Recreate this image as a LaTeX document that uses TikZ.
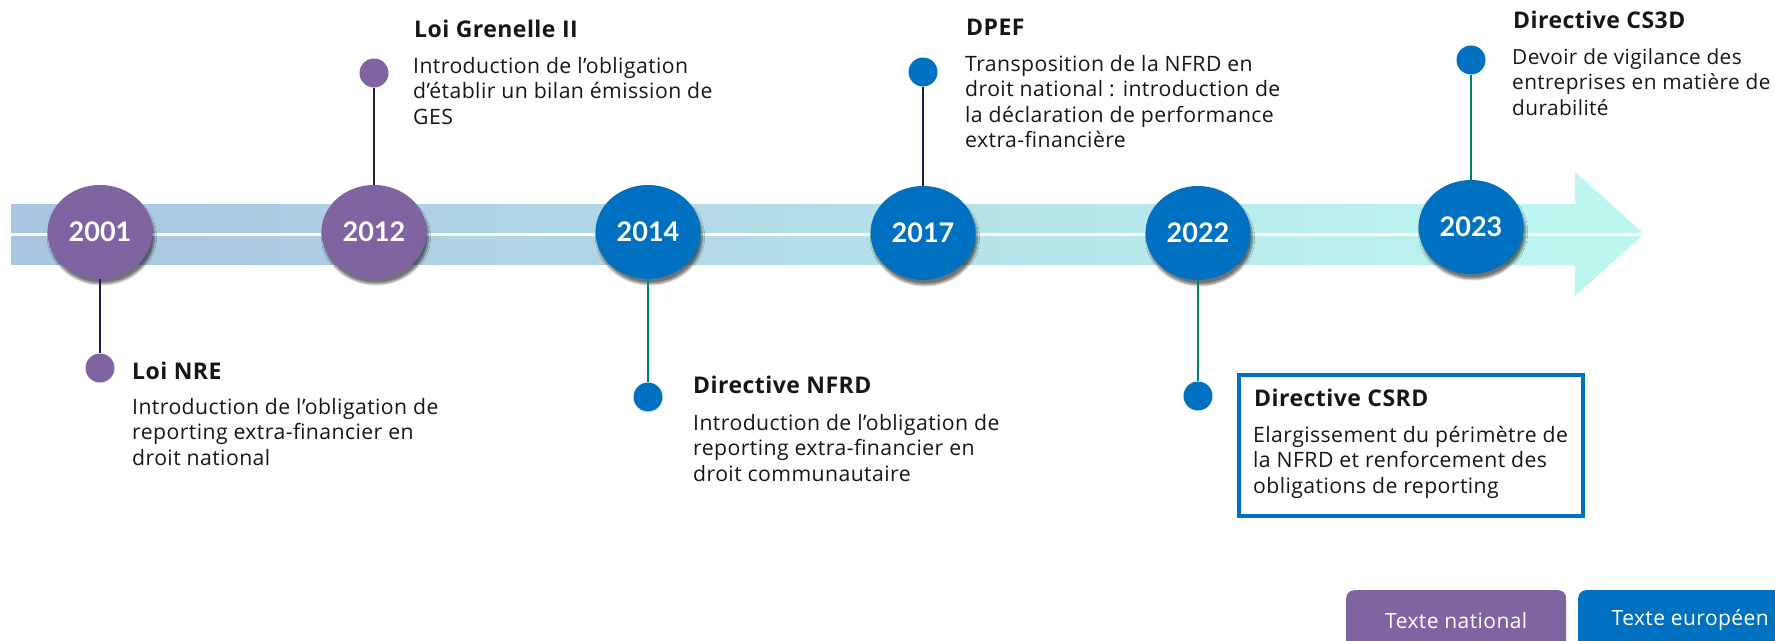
\documentclass[tikz,border=0pt]{standalone}
\usepackage{fontspec}
\setmainfont{Open Sans}[LetterSpace=2.0]
\newfontfamily\yearfont{Lato}
\usetikzlibrary{shapes.geometric,shadows.blur}
\definecolor{natpurple}{HTML}{8064A2}
\definecolor{eublue}{HTML}{0070C0}
\definecolor{navy}{HTML}{1F1A4F}
\definecolor{stemgreen}{HTML}{00826A}
\definecolor{bandL}{HTML}{A9C4E0}
\definecolor{bandR}{HTML}{BDF6EF}
\definecolor{ink}{HTML}{161616}
\newcommand\lnstrut{\rule{0pt}{18pt}}
\begin{document}
\begin{tikzpicture}[x=1pt,y=-1pt,
  yearnat/.style={ellipse, fill=natpurple, minimum width=105pt, minimum height=94pt, inner sep=0pt,
    text=white, font=\yearfont\fontsize{27}{30}\selectfont\bfseries,
    blur shadow={shadow xshift=2pt, shadow yshift=-5pt, shadow opacity=55, shadow blur steps=6}},
  yeareu/.style={yearnat, fill=eublue},
  dotnat/.style={circle, fill=natpurple, minimum size=29pt, inner sep=0pt},
  doteu/.style={dotnat, fill=eublue},
  stemnat/.style={draw=navy, line width=2pt},
  stemeu/.style={draw=stemgreen, line width=2pt},
  titletext/.style={anchor=base west, inner sep=0pt, text=ink, font=\fontsize{23}{27}\selectfont\bfseries},
  bodytext/.style={anchor=north west, yshift=18pt, inner sep=0pt, text=ink, align=left,
    font=\fontsize{21.2}{25.5}\selectfont},
  legbox/.style={rounded corners=8pt, anchor=north west, minimum height=60pt, inner sep=0pt,
    text=white, font=\fontsize{21}{25}\selectfont},
  framebox/.style={draw=eublue, line width=4pt}
]
\useasboundingbox (0,0) rectangle (1775,640);
% band
\shade[left color=bandL, right color=bandR] (11,204) rectangle (1577,264);
\fill[bandR] (1575,172) -- (1644,234) -- (1575,296) -- cycle;
\draw[white, line width=3pt] (11,234) -- (1644,234);
% year ellipses
\node[yearnat] (e2001) at (100,232) {2001};
\node[yearnat] (e2012) at (374,232) {2012};
\node[yeareu]  (e2014) at (648,232) {2014};
\node[yeareu]  (e2017) at (923,233) {2017};
\node[yeareu]  (e2022) at (1198,233) {2022};
\node[yeareu]  (e2023) at (1471,227) {2023};
% dots
\node[dotnat] (d2001) at (100,368) {};
\node[dotnat] (d2012) at (374,73) {};
\node[doteu]  (d2014) at (648,397) {};
\node[doteu]  (d2017) at (923,72) {};
\node[doteu]  (d2022) at (1198,396) {};
\node[doteu]  (d2023) at (1471,60) {};
% stems
\draw[stemnat] (e2001.south) -- (d2001.north);
\draw[stemnat] (e2012.north) -- (d2012.south);
\draw[stemeu]  (e2014.south) -- (d2014.north);
\draw[stemnat] (e2017.north) -- (d2017.south);
\draw[stemeu]  (e2022.south) -- (d2022.north);
\draw[stemeu]  (e2023.north) -- (d2023.south);
% texts
\node[titletext] (t2001) at (132,379) {Loi NRE};
\node[bodytext] (b2001) at (132,414) {\lnstrut Introduction de l’obligation de\\reporting extra-financier en\\droit national};
\node[titletext] (t2012) at (414,37) {Loi Grenelle II};
\node[bodytext] (b2012) at (413,73) {\lnstrut Introduction de l’obligation\\d’établir un bilan émission de\\GES};
\node[titletext] (t2014) at (693,393) {Directive NFRD};
\node[bodytext] (b2014) at (693,430) {\lnstrut Introduction de l’obligation de\\reporting extra-financier en\\droit communautaire};
\node[titletext] (t2017) at (966,35) {DPEF};
\node[bodytext] (b2017) at (965,71) {\lnstrut Transposition de la NFRD en\\droit national : introduction de\\la déclaration de performance\\extra-financière};
\node[framebox, minimum width=344pt, minimum height=141pt, anchor=north west, inner sep=0pt] (csrdbox) at (1237,373) {};
\node[titletext] (t2022) at (1254,406) {Directive CSRD};
\node[bodytext] (b2022) at (1253,442) {\lnstrut Elargissement du périmètre de\\la NFRD et renforcement des\\obligations de reporting};
\node[titletext] (t2023) at (1513,28) {Directive CS3D};
\node[bodytext, font=\fontsize{20.8}{25.5}\selectfont] (b2023) at (1512,64) {\lnstrut Devoir de vigilance des\\entreprises en matière de\\durabilité};
% legend
\node[legbox, fill=natpurple, minimum width=220pt] (lnat) at (1346,590) {Texte national};
\node[legbox, fill=eublue, minimum width=224pt] (leu) at (1578,590) {Texte européen};
\end{tikzpicture}
\end{document}
